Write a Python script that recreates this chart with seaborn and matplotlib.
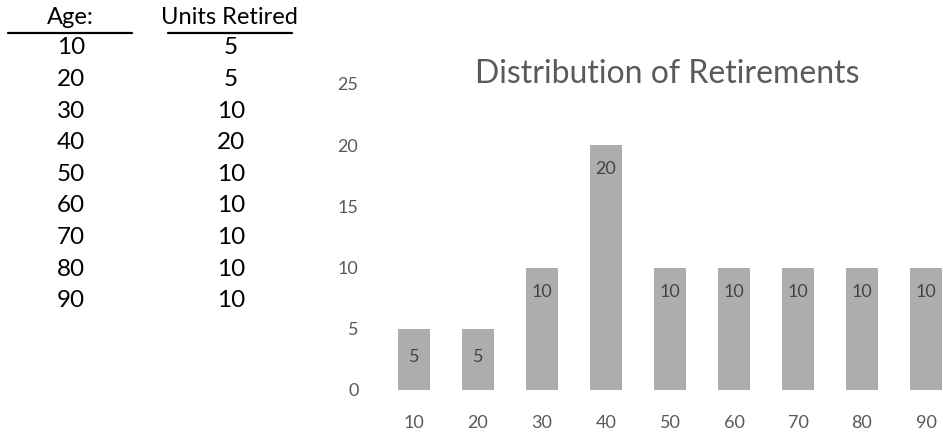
import matplotlib
matplotlib.use("Agg")
import matplotlib.pyplot as plt
import seaborn as sns
import pandas as pd

ages = [10, 20, 30, 40, 50, 60, 70, 80, 90]
units_retired = [5, 5, 10, 20, 10, 10, 10, 10, 10]
y_ticks = [0, 5, 10, 15, 20, 25]
title = "Distribution of Retirements"
col_headers = ["Age:", "Units Retired"]

sns.set_theme(style="white")
plt.rcParams["font.family"] = ["Lato", "DejaVu Sans"]

W, H = 943, 432
fig = plt.figure(figsize=(W / 100, H / 100), dpi=100)

def fx(px):
    return px / W

def fy(py):
    return 1 - py / H

# --- data table on the left ---
fig.text(fx(70), fy(18), col_headers[0], ha="center", va="center",
         fontsize=17, color="black")
fig.text(fx(229), fy(17), col_headers[1], ha="center", va="center",
         fontsize=17, color="black")
for (x0, x1) in [(8, 132), (168, 292)]:
    fig.add_artist(plt.Line2D([fx(x0), fx(x1)], [fy(33), fy(33)],
                              color="black", lw=1.6, transform=fig.transFigure))
row_y0, row_step = 48, 31.6
for i, (a, u) in enumerate(zip(ages, units_retired)):
    y = row_y0 + i * row_step
    fig.text(fx(71), fy(y), str(a), ha="center", va="center",
             fontsize=17.5, color="black")
    fig.text(fx(231), fy(y), str(u), ha="center", va="center",
             fontsize=17.5, color="black")

# --- bar chart ---
left_px, right_px = 382, 943
bottom_px, top_px = 390, 84
ax = fig.add_axes([fx(left_px), fy(bottom_px), fx(right_px - left_px),
                   (bottom_px - top_px) / H])

df = pd.DataFrame({"age": [str(a) for a in ages], "units": units_retired})
sns.barplot(data=df, x="age", y="units", color="#adadad", saturation=1,
            width=0.5, ax=ax, edgecolor="none")

step = 64
ax.set_xlim(-0.5, -0.5 + (right_px - left_px) / step)
ax.set_ylim(0, 25)
ax.set_yticks(y_ticks)
ax.set_xlabel("")
ax.set_ylabel("")
for s in ax.spines.values():
    s.set_visible(False)
ax.tick_params(axis="both", length=0, labelsize=13, colors="#595959")
ax.tick_params(axis="y", pad=17)
ax.tick_params(axis="x", pad=18)

for i, v in enumerate(units_retired):
    off = -28 if v <= 5 else -24
    ax.annotate(str(v), (i, v), xytext=(0, off * 0.72), textcoords="offset points",
                ha="center", va="center", fontsize=13, color="#454545")

fig.text(fx(667), fy(74), title, ha="center", va="center",
         fontsize=23, color="#5a5a5a")

fig.savefig("out.png", dpi=100, facecolor="white")
